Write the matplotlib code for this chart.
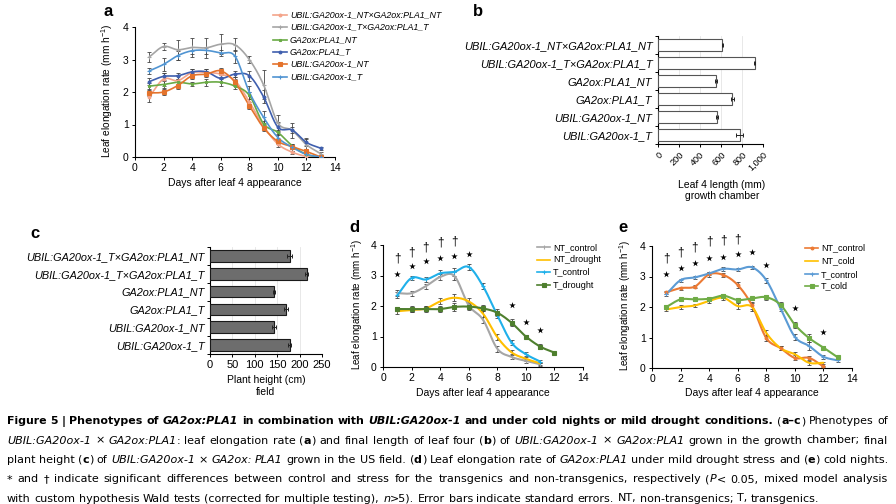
import re
import numpy as np
import matplotlib
matplotlib.use("Agg")
import matplotlib.pyplot as plt
from matplotlib.lines import Line2D

plt.rcParams['font.family'] = ['Liberation Sans', 'DejaVu Sans']
plt.rcParams['mathtext.default'] = 'regular'

# ---------------- data ----------------
# panel a: leaf elongation rate (mm/h), growth chamber
days_a = [1, 2, 3, 4, 5, 6, 7, 8, 9, 10, 11, 12, 13]
a_ntnt = [1.85, 2.40, 2.35, 2.60, 2.60, 2.55, 2.35, 1.70, 0.95, 0.40, 0.15, 0.02, 0.00]
a_ntnt_err = [0.15, 0.20, 0.15, 0.10, 0.10, 0.10, 0.10, 0.10, 0.10, 0.08, 0.05, 0.03, 0.02]
a_txt = [3.08, 3.40, 3.30, 3.37, 3.36, 3.47, 3.45, 3.00, 2.22, 1.05, 0.82, 0.38, 0.10]
a_txt_err = [0.15, 0.12, 0.30, 0.30, 0.30, 0.30, 0.20, 0.10, 0.45, 0.25, 0.22, 0.22, 0.05]
a_ga_nt = [2.18, 2.23, 2.30, 2.25, 2.30, 2.30, 2.18, 1.90, 1.02, 0.76, 0.35, 0.08, 0.00]
a_ga_nt_err = [0.10, 0.10, 0.10, 0.05, 0.10, 0.10, 0.10, 0.10, 0.10, 0.08, 0.05, 0.03, 0.02]
a_ga_t = [2.32, 2.48, 2.50, 2.62, 2.62, 2.42, 2.55, 2.50, 1.85, 0.92, 0.83, 0.45, 0.27]
a_ga_t_err = [0.10, 0.12, 0.10, 0.10, 0.10, 0.10, 0.10, 0.15, 0.20, 0.15, 0.10, 0.10, 0.05]
a_ubil_nt = [1.97, 2.00, 2.20, 2.50, 2.55, 2.65, 2.30, 1.58, 0.90, 0.48, 0.32, 0.17, 0.00]
a_ubil_nt_err = [0.10, 0.10, 0.10, 0.10, 0.10, 0.10, 0.10, 0.10, 0.10, 0.08, 0.05, 0.05, 0.02]
a_ubil_t = [2.65, 2.85, 3.12, 3.27, 3.28, 3.20, 3.10, 2.00, 1.22, 0.60, 0.30, 0.08, 0.00]
a_ubil_t_err = [0.10, 0.20, 0.15, 0.10, 0.10, 0.10, 0.20, 0.20, 0.20, 0.10, 0.10, 0.05, 0.02]

# panel b: leaf 4 length (mm), panel c: plant height (cm)
b_labels = ['UBIL:GA20ox-1_NT×GA2ox:PLA1_NT', 'UBIL:GA20ox-1_T×GA2ox:PLA1_T',
            'GA2ox:PLA1_NT', 'GA2ox:PLA1_T', 'UBIL:GA20ox-1_NT', 'UBIL:GA20ox-1_T']
b_vals = [613, 920, 549, 708, 565, 778]
b_err = [8, 8, 10, 15, 8, 35]
c_labels = ['UBIL:GA20ox-1_T×GA2ox:PLA1_NT', 'UBIL:GA20ox-1_T×GA2ox:PLA1_T',
            'GA2ox:PLA1_NT', 'GA2ox:PLA1_T', 'UBIL:GA20ox-1_NT', 'UBIL:GA20ox-1_T']
c_vals = [178, 216, 143, 170, 143, 178]
c_err = [6, 3, 3, 4, 5, 3]

# panel d: drought
days_d = [1, 2, 3, 4, 5, 6, 7, 8, 9, 10, 11]
days_d_long = [1, 2, 3, 4, 5, 6, 7, 8, 9, 10, 11, 12]
d_nt_control = [2.42, 2.42, 2.65, 2.95, 2.98, 2.02, 1.55, 0.60, 0.33, 0.20, 0.09]
d_nt_drought = [1.83, 1.87, 1.92, 2.15, 2.27, 2.15, 1.75, 0.98, 0.48, 0.27, 0.12]
d_t_control = [2.35, 2.92, 2.87, 3.07, 3.12, 3.28, 2.65, 1.70, 0.80, 0.42, 0.18]
d_t_drought = [1.90, 1.90, 1.90, 1.90, 1.97, 1.98, 1.92, 1.78, 1.45, 1.00, 0.67, 0.47]
d_err = [0.10, 0.08, 0.08, 0.10, 0.12, 0.10, 0.10, 0.10, 0.08, 0.06, 0.05]
d_err_long = [0.08, 0.10, 0.10, 0.10, 0.12, 0.12, 0.10, 0.12, 0.12, 0.06, 0.08, 0.02]
d_dagger_days = [1, 2, 3, 4, 5]
d_dagger_y = [3.56, 3.76, 3.92, 4.07, 4.13]
d_star_days = [1, 2, 3, 4, 5, 6, 9, 10, 11]
d_star_y = [3.05, 3.31, 3.49, 3.56, 3.65, 3.69, 2.02, 1.49, 1.20]

# panel e: cold nights
days_e = [1, 2, 3, 4, 5, 6, 7, 8, 9, 10, 11, 12]
days_e_long = [1, 2, 3, 4, 5, 6, 7, 8, 9, 10, 11, 12, 13]
e_nt_control = [2.48, 2.62, 2.67, 3.07, 3.05, 2.72, 2.05, 0.98, 0.65, 0.33, 0.33, 0.05]
e_nt_cold = [1.92, 2.00, 2.05, 2.20, 2.30, 2.03, 2.00, 1.15, 0.65, 0.45, 0.17, 0.17]
e_t_control = [2.42, 2.88, 2.97, 3.10, 3.25, 3.23, 3.30, 2.88, 1.95, 1.02, 0.72, 0.37, 0.25]
e_t_cold = [2.00, 2.25, 2.25, 2.27, 2.37, 2.23, 2.28, 2.32, 2.07, 1.42, 0.98, 0.67, 0.35]
e_err = [0.06, 0.05, 0.06, 0.07, 0.07, 0.10, 0.12, 0.10, 0.06, 0.08, 0.06, 0.03]
e_err_long = [0.06, 0.05, 0.05, 0.06, 0.06, 0.06, 0.06, 0.08, 0.08, 0.10, 0.12, 0.06, 0.05]
e_dagger_days = [1, 2, 3, 4, 5, 6]
e_dagger_y = [3.60, 3.78, 3.95, 4.16, 4.19, 4.21]
e_star_days = [1, 2, 3, 4, 5, 6, 7, 8, 10, 12]
e_star_y = [3.08, 3.29, 3.43, 3.60, 3.65, 3.73, 3.79, 3.38, 1.96, 1.18]

W, H = 896, 504
fig = plt.figure(figsize=(W / 100, H / 100), dpi=100)


def fx(px):
    return px / W


def fy(py):
    return 1 - py / H


def axes_px(left, top, right, bottom):
    return fig.add_axes([fx(left), fy(bottom), (right - left) / W, (bottom - top) / H])


def smooth_xy(x, y, n=16):
    # Excel style smoothed line (Catmull-Rom through the points)
    x = np.asarray(x, float)
    y = np.asarray(y, float)
    px = np.r_[2 * x[0] - x[1], x, 2 * x[-1] - x[-2]]
    py = np.r_[2 * y[0] - y[1], y, 2 * y[-1] - y[-2]]
    t = np.linspace(0, 1, n, endpoint=False)[:, None]
    segs = []
    for i in range(1, len(px) - 2):
        p0, p1, p2, p3 = [np.array([px[j], py[j]]) for j in range(i - 1, i + 3)]
        seg = 0.5 * (2 * p1 + (-p0 + p2) * t + (2 * p0 - 5 * p1 + 4 * p2 - p3) * t ** 2
                     + (-p0 + 3 * p1 - 3 * p2 + p3) * t ** 3)
        segs.append(seg)
    segs.append(np.array([[x[-1], y[-1]]]))
    pts = np.vstack(segs)
    return pts[:, 0], pts[:, 1]


def style_line_axes(ax, xmax=14):
    for s in ['top', 'right']:
        ax.spines[s].set_visible(False)
    for s in ['left', 'bottom']:
        ax.spines[s].set_linewidth(0.8)
    ax.set_xlim(0, xmax)
    ax.set_ylim(0, 4)
    ax.set_xticks(range(0, 15, 2))
    ax.set_yticks(range(0, 5))
    ax.tick_params(labelsize=7.5, length=2.5, width=0.7, pad=2)


def draw_series(ax, x, y, err, color, marker, ms, lw=1.2):
    sx, sy = smooth_xy(x, y)
    ax.errorbar(x, y, yerr=err, fmt='none', ecolor='#444444', elinewidth=0.6,
                capsize=1.6, capthick=0.6, zorder=2)
    ax.plot(sx, sy, color=color, lw=lw, zorder=3, solid_capstyle='round')
    ax.plot(x, y, ls='none', marker=marker, ms=ms, color=color, mec=color, mew=0.8, zorder=4)


def legend_px(x0, x1, rows, entries, size, italic=False):
    for (label, color, marker, ms), y in zip(entries, rows):
        fig.add_artist(Line2D([fx(x0), fx(x1)], [fy(y), fy(y)], transform=fig.transFigure,
                              color=color, lw=1.2))
        fig.add_artist(Line2D([fx((x0 + x1) / 2)], [fy(y)], transform=fig.transFigure,
                              ls='none', marker=marker, ms=ms, color=color, mew=0.8))
        fig.text(fx(x1 + 3), fy(y), label, va='center', ha='left', fontsize=size,
                 fontstyle='italic' if italic else 'normal')


ylab = 'Leaf elongation rate (mm h$^{-1}$)'
xlab = 'Days after leaf 4 appearance'

# ---------------- panel a ----------------
ax_a = axes_px(135, 27, 335, 157)
style_line_axes(ax_a)
a_series = [
    ('UBIL:GA20ox-1_NT×GA2ox:PLA1_NT', a_ntnt, a_ntnt_err, '#f4a48a', 'o', 2),
    ('UBIL:GA20ox-1_T×GA2ox:PLA1_T', a_txt, a_txt_err, '#a5a5a5', '+', 3),
    ('GA2ox:PLA1_NT', a_ga_nt, a_ga_nt_err, '#6aaa45', 's', 2),
    ('GA2ox:PLA1_T', a_ga_t, a_ga_t_err, '#3f5fae', 'o', 2),
    ('UBIL:GA20ox-1_NT', a_ubil_nt, a_ubil_nt_err, '#e4732c', 's', 2.8),
    ('UBIL:GA20ox-1_T', a_ubil_t, a_ubil_t_err, '#5094d2', '+', 3),
]
for lab, vals, err, col, mk, ms in a_series:
    draw_series(ax_a, days_a, vals, err, col, mk, ms)
legend_px(273, 287, [14.7, 27.1, 39.5, 51.9, 64.3, 76.7],
          [(s[0], s[3], s[4], s[5]) for s in a_series], 6.4, italic=True)
fig.text(fx(235), fy(183), xlab, ha='center', va='center', fontsize=7.5)
fig.text(fx(107), fy(91), ylab, ha='center', va='center', rotation=90, fontsize=7.3)


# ---------------- bar panels ----------------
def bar_panel(ax, labels, vals, err, xmax, step, face, edge, size):
    pos = np.arange(len(vals))
    ax.barh(pos, vals, height=0.65, color=face, edgecolor=edge, lw=0.8, zorder=3)
    ax.errorbar(vals, pos, xerr=err, fmt='none', ecolor='#222222', elinewidth=0.7,
                capsize=1.2, capthick=0.7, zorder=4)
    ax.set_ylim(5.5, -0.5)
    ax.set_xlim(0, xmax)
    ax.set_xticks(np.arange(0, xmax + 1, step))
    ax.set_yticks(pos)
    ax.set_yticklabels(labels, fontstyle='italic', fontsize=size)
    ax.set_yticks(np.arange(-0.5, 6, 1), minor=True)
    ax.tick_params(axis='y', which='major', length=0, pad=4)
    ax.tick_params(axis='y', which='minor', length=2.5, width=0.7)
    ax.tick_params(axis='x', length=2.5, width=0.7, pad=2)
    ax.grid(axis='x', color='#e4e4e4', lw=0.6, zorder=0)
    ax.set_axisbelow(True)
    for s in ['top', 'right']:
        ax.spines[s].set_visible(False)
    for s in ['left', 'bottom']:
        ax.spines[s].set_linewidth(0.8)


ax_b = axes_px(658, 36, 763, 144)
bar_panel(ax_b, b_labels, b_vals, b_err, 1000, 200, 'white', '#555555', 7.9)
ax_b.set_xticklabels(['0', '200', '400', '600', '800', '1,000'], rotation=45, ha='right',
                     rotation_mode='anchor', fontsize=6.6)
fig.text(fx(722), fy(185), 'Leaf 4 length (mm)', ha='center', va='center', fontsize=7.5)
fig.text(fx(722), fy(196), 'growth chamber', ha='center', va='center', fontsize=7.5)

ax_c = axes_px(210, 247, 322, 354)
bar_panel(ax_c, c_labels, c_vals, c_err, 250, 50, '#6d6d6d', '#1a1a1a', 7.8)
ax_c.tick_params(axis='x', labelsize=8)
fig.text(fx(266), fy(380), 'Plant height (cm)', ha='center', va='center', fontsize=7.5)
fig.text(fx(266), fy(392), 'field', ha='center', va='center', fontsize=7.5)

# ---------------- panel d ----------------
ax_d = axes_px(383, 245, 583, 367)
style_line_axes(ax_d)
d_series = [
    ('NT_control', days_d, d_nt_control, d_err, '#a6a6a6', '|', 3),
    ('NT_drought', days_d, d_nt_drought, d_err, '#ffbf00', '', 0),
    ('T_control', days_d, d_t_control, d_err, '#1fb0ea', '+', 3),
    ('T_drought', days_d_long, d_t_drought, d_err_long, '#4e7f2e', 's', 2.2),
]
for lab, xs, vals, err, col, mk, ms in d_series:
    draw_series(ax_d, xs, vals, err, col, mk, ms, lw=1.5)
for dd, yy in zip(d_dagger_days, d_dagger_y):
    ax_d.text(dd, yy, '†', ha='center', va='center', fontsize=8.5, clip_on=False)
ax_d.scatter(d_star_days, d_star_y, marker='*', s=24, color='black', lw=0, clip_on=False, zorder=5)
legend_px(537, 550, [247.3, 259.5, 271.8, 285], [(s[0], s[4], s[5], s[6]) for s in d_series], 6.5)
fig.text(fx(483), fy(393), xlab, ha='center', va='center', fontsize=7.5)
fig.text(fx(357), fy(305), ylab, ha='center', va='center', rotation=90, fontsize=7.1)

# ---------------- panel e ----------------
ax_e = axes_px(652, 246, 852, 368)
style_line_axes(ax_e)
e_series = [
    ('NT_control', days_e, e_nt_control, e_err, '#ec7a34', 'o', 2),
    ('NT_cold', days_e, e_nt_cold, e_err, '#ffc000', '', 0),
    ('T_control', days_e_long, e_t_control, e_err_long, '#5b9bd5', '+', 3),
    ('T_cold', days_e_long, e_t_cold, e_err_long, '#6fac46', 's', 2.2),
]
for lab, xs, vals, err, col, mk, ms in e_series:
    draw_series(ax_e, xs, vals, err, col, mk, ms, lw=1.5)
for dd, yy in zip(e_dagger_days, e_dagger_y):
    ax_e.text(dd, yy, '†', ha='center', va='center', fontsize=8.5, clip_on=False)
ax_e.scatter(e_star_days, e_star_y, marker='*', s=24, color='black', lw=0, clip_on=False, zorder=5)
legend_px(805, 818, [247.7, 261, 274.3, 286], [(s[0], s[4], s[5], s[6]) for s in e_series], 6.5)
fig.text(fx(752), fy(393), xlab, ha='center', va='center', fontsize=7.5)
fig.text(fx(625), fy(306), ylab, ha='center', va='center', rotation=90, fontsize=7.1)

# panel letters
for letter, x, y in [('a', 108, 12), ('b', 478, 12), ('c', 35, 233), ('d', 354, 227), ('e', 623, 227)]:
    fig.text(fx(x), fy(y), letter, ha='center', va='center', fontsize=12, fontweight='bold')

# ---------------- caption ----------------
cap_lines = [
    '{b:Figure 5 | Phenotypes of }{bi:GA2ox:PLA1}{b: in combination with }{bi:UBIL:GA20ox-1}'
    '{b: and under cold nights or mild drought conditions.} ({b:a–c}) Phenotypes of',
    '{i:UBIL:GA20ox-1} × {i:GA2ox:PLA1}: leaf elongation rate ({b:a}) and final length of leaf four '
    '({b:b}) of {i:UBIL:GA20ox-1} × {i:GA2ox:PLA1} grown in the growth chamber; final',
    'plant height ({b:c}) of {i:UBIL:GA20ox-1} × {i:GA2ox: PLA1} grown in the US field. ({b:d}) Leaf '
    'elongation rate of {i:GA2ox:PLA1} under mild drought stress and ({b:e}) cold nights.',
    '* and † indicate significant differences between control and stress for the transgenics and '
    'non-transgenics, respectively ({i:P}< 0.05, mixed model analysis',
    'with custom hypothesis Wald tests (corrected for multiple testing), {i:n}>5). Error bars '
    'indicate standard errors. NT, non-transgenics; T, transgenics.',
]
cap_justify = [True, True, True, True, False]
cap_base = [424, 443.5, 463, 482.5, 501.5]
CAP_L, CAP_R = 7, 888
CAP_FONT = ['Liberation Sans Narrow', 'DejaVu Sans Condensed', 'DejaVu Sans']
STYLE = {'r': {}, 'b': {'fontweight': 'bold'}, 'i': {'fontstyle': 'italic'},
         'bi': {'fontweight': 'bold', 'fontstyle': 'italic'}}


def parse_line(line):
    parts, pos = [], 0
    for m in re.finditer(r'\{(bi|b|i):([^}]*)\}', line):
        if m.start() > pos:
            parts.append((line[pos:m.start()], 'r'))
        parts.append((m.group(2), m.group(1)))
        pos = m.end()
    if pos < len(line):
        parts.append((line[pos:], 'r'))
    words = [[]]
    for txt, st in parts:
        for k, p in enumerate(txt.split(' ')):
            if k > 0:
                words.append([])
            if p:
                words[-1].append((p, st))
    return [w for w in words if w]


renderer = fig.canvas.get_renderer()


def chunk_w(s, st, size):
    t = fig.text(0, 0, s, fontsize=size, family=CAP_FONT, **STYLE[st])
    w = t.get_window_extent(renderer=renderer).width
    t.remove()
    return w


parsed = [parse_line(l) for l in cap_lines]
base = 10.0
space0 = chunk_w('a a', 'r', base) - chunk_w('aa', 'r', base)
nat = [sum(chunk_w(c, st, base) for w in words for c, st in w) + space0 * (len(words) - 1)
       for words in parsed]
avail = CAP_R - CAP_L - 2
cap_size = base * avail / max(nat[1:4])
# the bold heading line gets its own (slightly smaller) size if it would not fit
line_sizes = [min(cap_size, base * avail / nat[0])] + [cap_size] * 4

for words, just, yb, size in zip(parsed, cap_justify, cap_base, line_sizes):
    widths = [[chunk_w(c, st, size) for c, st in w] for w in words]
    total = sum(sum(ws) for ws in widths)
    gap = (CAP_R - CAP_L - total) / (len(words) - 1) if just else space0 * size / base
    x = CAP_L
    for w, ws in zip(words, widths):
        for (c, st), cw in zip(w, ws):
            fig.text(fx(x), fy(yb), c, fontsize=size, family=CAP_FONT, va='baseline',
                     ha='left', **STYLE[st])
            x += cw
        x += gap

fig.savefig('out.png', dpi=100)
